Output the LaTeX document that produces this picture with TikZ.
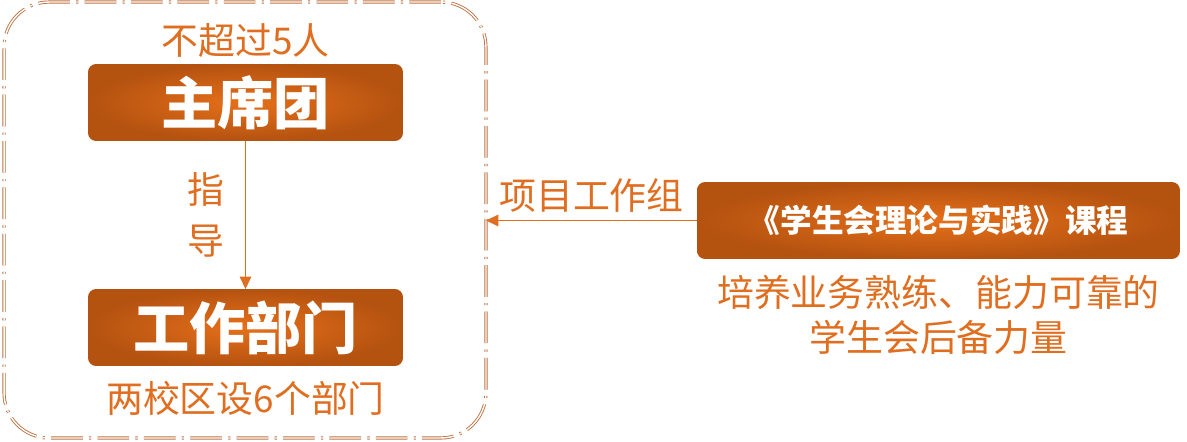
\documentclass[tikz,border=0pt]{standalone}
\usepackage{fontspec}
\setmainfont{Noto Sans CJK SC}
\usetikzlibrary{calc,arrows.meta}
\definecolor{orangetext}{RGB}{224,110,32}
\definecolor{boxlight}{RGB}{230,112,26}
\definecolor{boxdark}{RGB}{180,82,16}
\definecolor{framebrown}{RGB}{190,112,64}

\begin{document}
\begin{tikzpicture}[x=0.02cm,y=-0.02cm,every node/.style={outer sep=0pt,inner sep=0pt}]
\tikzstyle{box}=[rounded corners=0.16cm,shading=radial,inner color=boxlight,outer color=boxdark,minimum height=1.54cm,text=white]
\tikzstyle{frame}=[draw=framebrown,rounded corners=0.9cm,line width=0.5pt,double=white,double distance=0.8pt,dash pattern=on 18pt off 3.6pt on 1.2pt off 3.6pt]
\tikzstyle{link}=[draw=orangetext,line width=0.7pt,-{Triangle[width=6.5pt,length=7pt]}]
\tikzstyle{note}=[text=orangetext,font=\fontsize{21}{26}\selectfont,align=center]

\useasboundingbox (0,0) rectangle (1187,442);

% left group
\node (frame) [frame,minimum width=9.64cm,minimum height=8.72cm] at (245,220) {};
\node (chair) [box,minimum width=6.3cm,font=\fontsize{32}{38}\selectfont\bfseries] at (245.5,102.5) {主席团};
\node (dept) [box,minimum width=6.3cm,font=\fontsize{32}{38}\selectfont\bfseries] at (245.5,327.5) {工作部门};
\node (chairnote) [note] at ($(chair.north)+(0,-24)$) {不超过5人};
\node (deptnote) [note] at ($(dept.south)+(0,32)$) {两校区设6个部门};

\draw [link] (chair.south) -- (dept.north);
\node (guide) [note,font=\fontsize{21}{29}\selectfont] at ($(chair.south)!0.5!(dept.north)+(-40,0)$) {指\\导};

% right group
\node (course) [box,minimum width=9.66cm,font=\fontsize{18}{22}\selectfont\bfseries] at (938.5,220.5) {《学生会理论与实践》课程};
\node (coursenote) [note,font=\fontsize{21}{25.6}\selectfont] at ($(course.south)+(0,56)$) {培养业务熟练、能力可靠的\\学生会后备力量};

\coordinate (entry) at (course.west -| frame.east);
\draw [link] (course.west) -- (entry);
\node (project) [note] at ($(entry)!0.5!(course.west)+(0,-25)$) {项目工作组};
\end{tikzpicture}
\end{document}
